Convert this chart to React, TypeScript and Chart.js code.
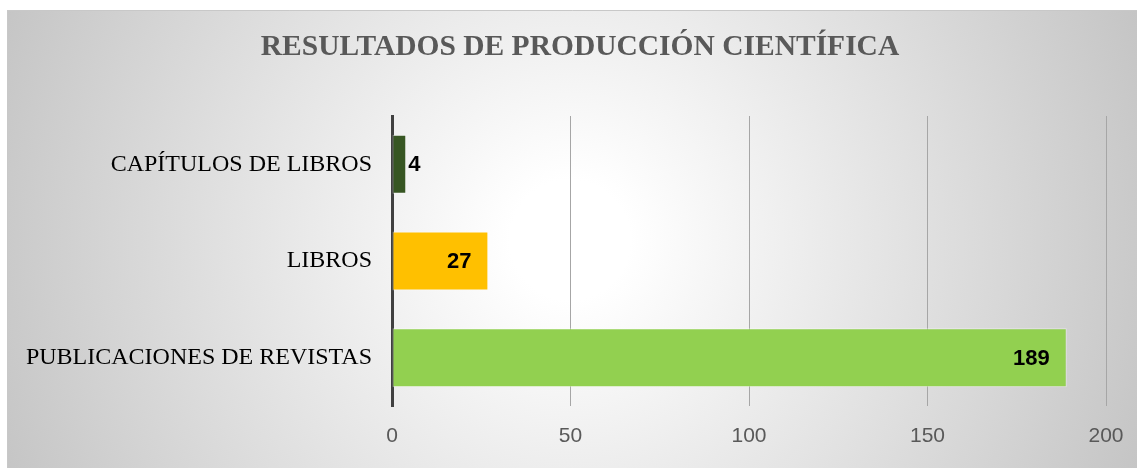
import React, { useEffect, useRef } from "react";
import { Chart, registerables } from "chart.js";

Chart.register(...registerables);

const TITLE = "RESULTADOS DE PRODUCCIÓN CIENTÍFICA";
const categories = ["CAPÍTULOS DE LIBROS", "LIBROS", "PUBLICACIONES DE REVISTAS"];
const values = [4, 27, 189];
const barColors = ["#375623", "#FFC000", "#92D050"];
const xMin = 0;
const xMax = 200;
const xStep = 50;

const W = 1137;
const H = 468;

const bgPlugin = {
  id: "bgPlugin",
  beforeDraw(chart: any) {
    const ctx = chart.ctx;
    ctx.save();
    ctx.fillStyle = "#ffffff";
    ctx.fillRect(0, 0, W, H);
    const g = ctx.createRadialGradient(570, 240, 60, 570, 240, 620);
    g.addColorStop(0, "#ffffff");
    g.addColorStop(1, "#c4c4c4");
    ctx.fillStyle = g;
    ctx.fillRect(7, 10, W - 7, H - 10);
    ctx.strokeStyle = "#c8c8c8";
    ctx.lineWidth = 1;
    ctx.beginPath();
    ctx.moveTo(7.5, H);
    ctx.lineTo(7.5, 10.5);
    ctx.lineTo(W, 10.5);
    ctx.stroke();
    // title
    ctx.font = "bold 29.5px 'Liberation Serif', serif";
    ctx.fillStyle = "#595959";
    ctx.textAlign = "center";
    ctx.textBaseline = "middle";
    ctx.fillText(TITLE, 580, 47);
    ctx.restore();
  },
};

const labelPlugin = {
  id: "labelPlugin",
  afterDatasetsDraw(chart: any) {
    const ctx = chart.ctx;
    const meta = chart.getDatasetMeta(0);
    ctx.save();
    ctx.font = "bold 22px 'Liberation Sans', sans-serif";
    ctx.fillStyle = "#000000";
    ctx.textBaseline = "middle";
    meta.data.forEach((bar: any, i: number) => {
      const txt = String(values[i]);
      const tw = ctx.measureText(txt).width;
      const len = bar.x - bar.base;
      if (len > tw + 25) {
        ctx.textAlign = "right";
        ctx.fillText(txt, bar.x - 17, bar.y + 1);
      } else {
        ctx.textAlign = "left";
        ctx.fillText(txt, bar.x + 2, bar.y + 1);
      }
    });
    ctx.restore();
  },
};

export default function App() {
  const ref = useRef<HTMLCanvasElement>(null);
  useEffect(() => {
    const canvas = ref.current;
    if (!canvas) return;
    const chart = new Chart(canvas, {
      type: "bar",
      data: {
        labels: categories,
        datasets: [
          {
            data: values,
            backgroundColor: barColors,
            borderColor: "rgba(255,255,255,0.45)",
            borderWidth: 1,
            borderSkipped: false,
            barPercentage: 0.61,
            categoryPercentage: 1,
          },
        ],
      },
      options: {
        indexAxis: "y",
        responsive: false,
        animation: false,
        layout: { padding: { left: 0, right: 31, top: 116, bottom: 0 } },
        plugins: {
          legend: { display: false },
          tooltip: { enabled: false },
          title: { display: false },
        },
        scales: {
          x: {
            min: xMin,
            max: xMax,
            afterFit(scale: any) {
              scale.height = H - 406;
              scale.paddingLeft = 0;
              scale.paddingRight = 0;
            },
            ticks: {
              stepSize: xStep,
              color: "#595959",
              font: { family: "'Liberation Sans', sans-serif", size: 21 },
              padding: 18,
            },
            grid: { color: "#a6a6a6", lineWidth: 1, drawTicks: false },
            border: { display: false },
          },
          y: {
            afterFit(scale: any) {
              scale.width = 392;
              scale.paddingTop = 0;
              scale.paddingBottom = 0;
            },
            ticks: {
              color: "#000000",
              font: { family: "'Liberation Serif', serif", size: 24 },
              padding: 12,
            },
            grid: { display: false },
            border: { display: true, color: "#404040", width: 3 },
          },
        },
      },
      plugins: [bgPlugin, labelPlugin],
    });
    return () => chart.destroy();
  }, []);
  return (
    <div style={{ position: "absolute", left: 0, top: 0, width: W, height: H }}>
      <canvas ref={ref} width={W} height={H} style={{ display: "block", width: W, height: H }} />
    </div>
  );
}
